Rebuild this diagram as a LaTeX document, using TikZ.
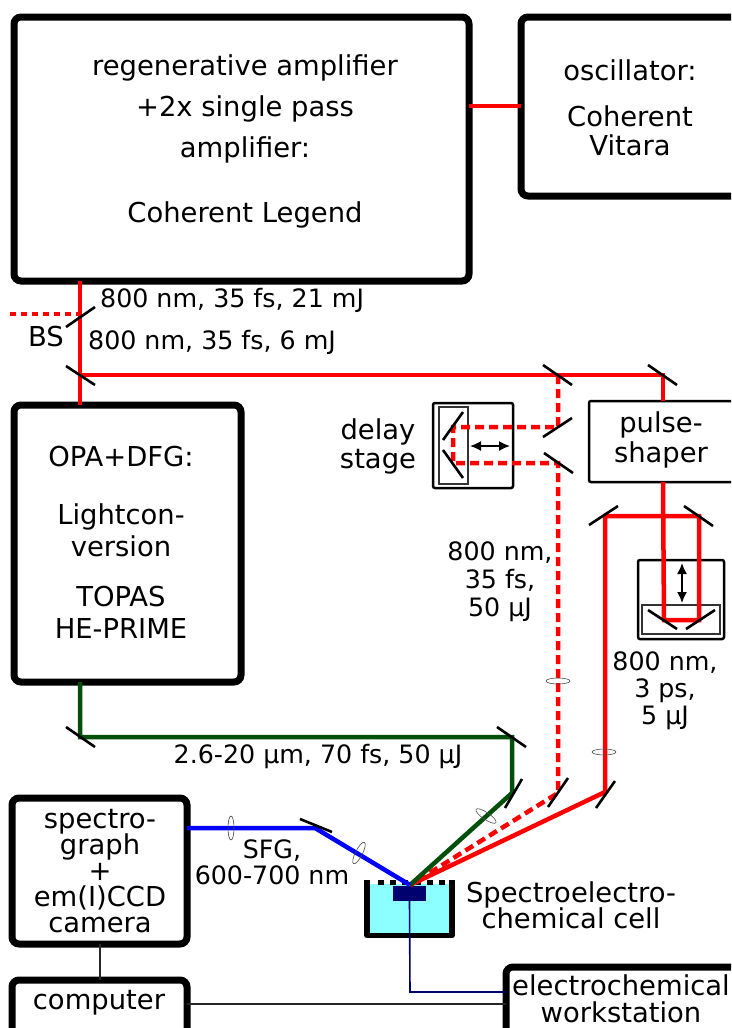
\documentclass[tikz,border=0pt]{standalone}
\usepackage{fontspec}
\setmainfont{DejaVu Sans}
\definecolor{beamred}{RGB}{255,0,0}
\definecolor{beamgreen}{RGB}{0,80,10}
\definecolor{beamblue}{RGB}{0,0,255}
\definecolor{cellcyan}{RGB}{140,255,255}
\definecolor{elnavy}{RGB}{0,0,110}
\usetikzlibrary{arrows.meta,calc}
\tikzset{
  hbox/.style={draw=black,line width=7pt,rounded corners=7pt,anchor=north west,inner sep=0pt,outer sep=0pt},
  mbox/.style={draw=black,line width=2.5pt,rounded corners=2pt,anchor=north west,inner sep=0pt,outer sep=0pt},
  thinbox/.style={draw=black!80,line width=1.2pt,anchor=north west,inner sep=0pt,outer sep=0pt},
  lab/.style={align=center,inner sep=0pt,font=\fontsize{27.4}{32}\selectfont},
  slab/.style={align=center,inner sep=0pt,font=\fontsize{25.3}{32}\selectfont},
  redbeam/.style={draw=beamred,line width=4.5pt},
  reddash/.style={draw=beamred,line width=4.5pt,dash pattern=on 9pt off 5pt},
  greenbeam/.style={draw=beamgreen,line width=4.5pt},
  bluebeam/.style={draw=beamblue,line width=4.5pt},
  mirror/.style={draw=black,line width=2.6pt},
  lens/.style={draw=black!70,line width=.6pt,fill=none},
  wire/.style={draw=black!85,line width=1.5pt},
  navywire/.style={draw=elnavy,line width=1.6pt},
  motion/.style={draw=black,line width=1.6pt,{Latex[length=11pt,width=10pt]}-{Latex[length=11pt,width=10pt]}},
}
\begin{document}
\begin{tikzpicture}[x=1pt,y=-1pt]
\clip (0,0) rectangle (731,1028);
\fill[white] (0,0) rectangle (731,1028);
% coordinates of beam points
\coordinate (bs) at (80,314);
\coordinate (m1) at (80,375);
\coordinate (m2) at (558,375);
\coordinate (m3) at (663,375);
\coordinate (d1) at (558,427);
\coordinate (d2) at (558,463);
\coordinate (r1) at (453,427);
\coordinate (r2) at (453,463);
\coordinate (f1) at (605,516);
\coordinate (f2) at (699,516);
\coordinate (c1) at (699,620);
\coordinate (c2) at (664,620);
\coordinate (g1) at (80,737);
\coordinate (g2) at (512,737);
\coordinate (g3) at (512,793);
\coordinate (rd3) at (558,793);
\coordinate (rs3) at (605,792);
\coordinate (b1) at (315,828);
\coordinate (focus) at (410,885);
\coordinate (bsend) at (10,314);
% cell first
\fill[cellcyan] (367,884) rectangle (452,935);
\node[fill=elnavy,minimum width=33pt,minimum height=15pt,inner sep=0pt,outer sep=0pt,anchor=north west] (elec) at (393,886) {};
\draw[black,line width=5.5pt,line join=round] (367,880) -- (367,935.5) -- (452,935.5) -- (452,880);
\foreach \x in {381,393,405,418,430,442}{\fill[black] (\x-3,880) rectangle (\x+3,885);}
% boxes
\node[hbox,minimum width=455pt,minimum height=264pt] (regen) at (14,17) {};
\node[hbox,minimum width=219pt,minimum height=179pt] (osc) at (521,17) {};
\node[hbox,minimum width=227pt,minimum height=277pt] (opa) at (14,405) {};
\node[hbox,minimum width=175pt,minimum height=146pt] (spec) at (12,798) {};
\node[hbox,minimum width=175pt,minimum height=60pt] (comp) at (12,980) {};
\node[hbox,minimum width=234pt,minimum height=73pt] (echem) at (506,967) {};
\node[mbox,minimum width=151pt,minimum height=81pt] (shaper) at (589,401) {};
\node[mbox,minimum width=80pt,minimum height=85pt] (delay) at (433,403) {};
\node[thinbox,minimum width=29pt,minimum height=77pt] (dstage) at (439,407) {};
\node[mbox,minimum width=86pt,minimum height=79pt] (comprbox) at (638,560) {};
\node[thinbox,minimum width=78pt,minimum height=29pt] (cstage) at (642,605) {};
% beams
\draw[redbeam] (regen.east |- 0,106) -- (osc.west |- 0,106);
\draw[redbeam] (regen.south -| m1) -- (m1) -- (m3) -- (shaper.north -| m3);
\draw[redbeam] (m1) -- (opa.north -| m1);
\draw[draw=beamred,line width=4.5pt,dash pattern=on 6pt off 5pt] (bsend) -- (bs);
\draw[redbeam] (shaper.south -| m3) -- (c2) -- (c1) -- (f2) -- (f1) -- (rs3) -- (focus);
\draw[reddash] (m2) -- (d1) -- (r1) -- (r2) -- (d2) -- (rd3) -- (focus);
\draw[greenbeam] (opa.south -| g1) -- (g1) -- (g2) -- (g3) -- (focus);
\draw[bluebeam] (spec.east |- b1) -- (b1) -- (focus);
% wires
\draw[wire] (spec.south -| 100,0) -- (comp.north -| 100,0);
\draw[wire] (comp.east |- 0,1004) -- (echem.west |- 0,1004);
\draw[navywire] (elec.south) -- (410,992) -- (echem.west |- 0,992);
% mirrors
\draw[mirror] (bs) ++(-14,13) -- ++(29,-20);
\draw[mirror] (m1) ++(-14,-9) -- ++(29,19);
\draw[mirror] (m2) ++(-15,-10) -- ++(29,20);
\draw[mirror] (m3) ++(-15,-10) -- ++(29,20);
\draw[mirror] (d1) ++(-15,10) -- ++(29,-19);
\draw[mirror] (d2) ++(-14,-10) -- ++(29,20);
\draw[mirror] (f1) ++(-16,9) -- ++(29,-19);
\draw[mirror] (f2) ++(-15,-10) -- ++(29,20);
\draw[mirror] (443,440) -- (463,412);
\draw[mirror] (443,450) -- (463,478);
\draw[mirror] (648,610) -- (677,629);
\draw[mirror] (686,629) -- (715,610);
\draw[mirror] (g1) ++(-14,-10) -- ++(29,20);
\draw[mirror] (g2) ++(-15,-10) -- ++(29,20);
\draw[mirror] (g3) ++(-7,15) -- ++(17,-29);
\draw[mirror] (rd3) ++(-10,14) -- ++(20,-29);
\draw[mirror] (rs3) ++(-9,16) -- ++(19,-27);
\draw[mirror] (b1) ++(-15,-9) -- ++(32,13);
% lenses
\draw[lens] (558,681) ellipse [x radius=12pt,y radius=3pt];
\draw[lens] (604,752) ellipse [x radius=12pt,y radius=3pt];
\draw[lens] (231,828) ellipse [x radius=3pt,y radius=12pt];
\draw[lens,rotate around={-27:(359,853)}] (359,853) ellipse [x radius=3.5pt,y radius=12pt];
\draw[lens,rotate around={56:(486,816)}] (486,816) ellipse [x radius=3.5pt,y radius=12pt];
% motion arrows
\draw[motion] (470,446) -- (510,446);
\draw[motion] (682,563) -- (682,603);
% labels
\node[lab] (t1) at (245,141) {regenerative amplifier\\[9pt]+2x single pass\\[9pt]amplifier:\\[33pt]Coherent Legend};
\node[lab] (t2) at (630,108) {oscillator:\\[14pt]Coherent\\[-3pt]Vitara};
\node[lab] (t3) at (121,542) {OPA+DFG:\\[26pt]Lightcon-\\version\\[18pt]TOPAS\\HE-PRIME};
\node[lab] (t4) at (100,871) {spectro-\\[-6pt]graph\\[-6pt]+\\[-6pt]em(I)CCD\\[-6pt]camera};
\node[lab] (t5) at (99,1003) {computer};
\node[lab] (t6) at (621,999) {electrochemical\\[-5pt]workstation};
\node[lab] (t7) at (661,440) {pulse-\\[-2pt]shaper};
\node[lab] (t8) at (378,446) {delay\\[-3pt]stage};
\node[lab] (t9) at (46,337) {BS};
\node[slab,anchor=west] (t10) at (100,300) {800 nm, 35 fs, 21 mJ};
\node[slab,anchor=west] (t11) at (88,342) {800 nm, 35 fs, 6 mJ};
\node[slab] (t12) at (500,582) {800 nm,\\[-4pt]35 fs,\\[-4pt]50 µJ};
\node[slab] (t13) at (665,691) {800 nm,\\[-5pt]3 ps,\\[-5pt]5 µJ};
\node[slab] (t14) at (318,757) {2.6-20 µm, 70 fs, 50 µJ};
\node[slab] (t15) at (272,862) {SFG,\\[-6pt]600-700 nm};
\node[lab] (t16) at (571,905) {Spectroelectro-\\[-6pt]chemical cell};
\end{tikzpicture}
\end{document}
